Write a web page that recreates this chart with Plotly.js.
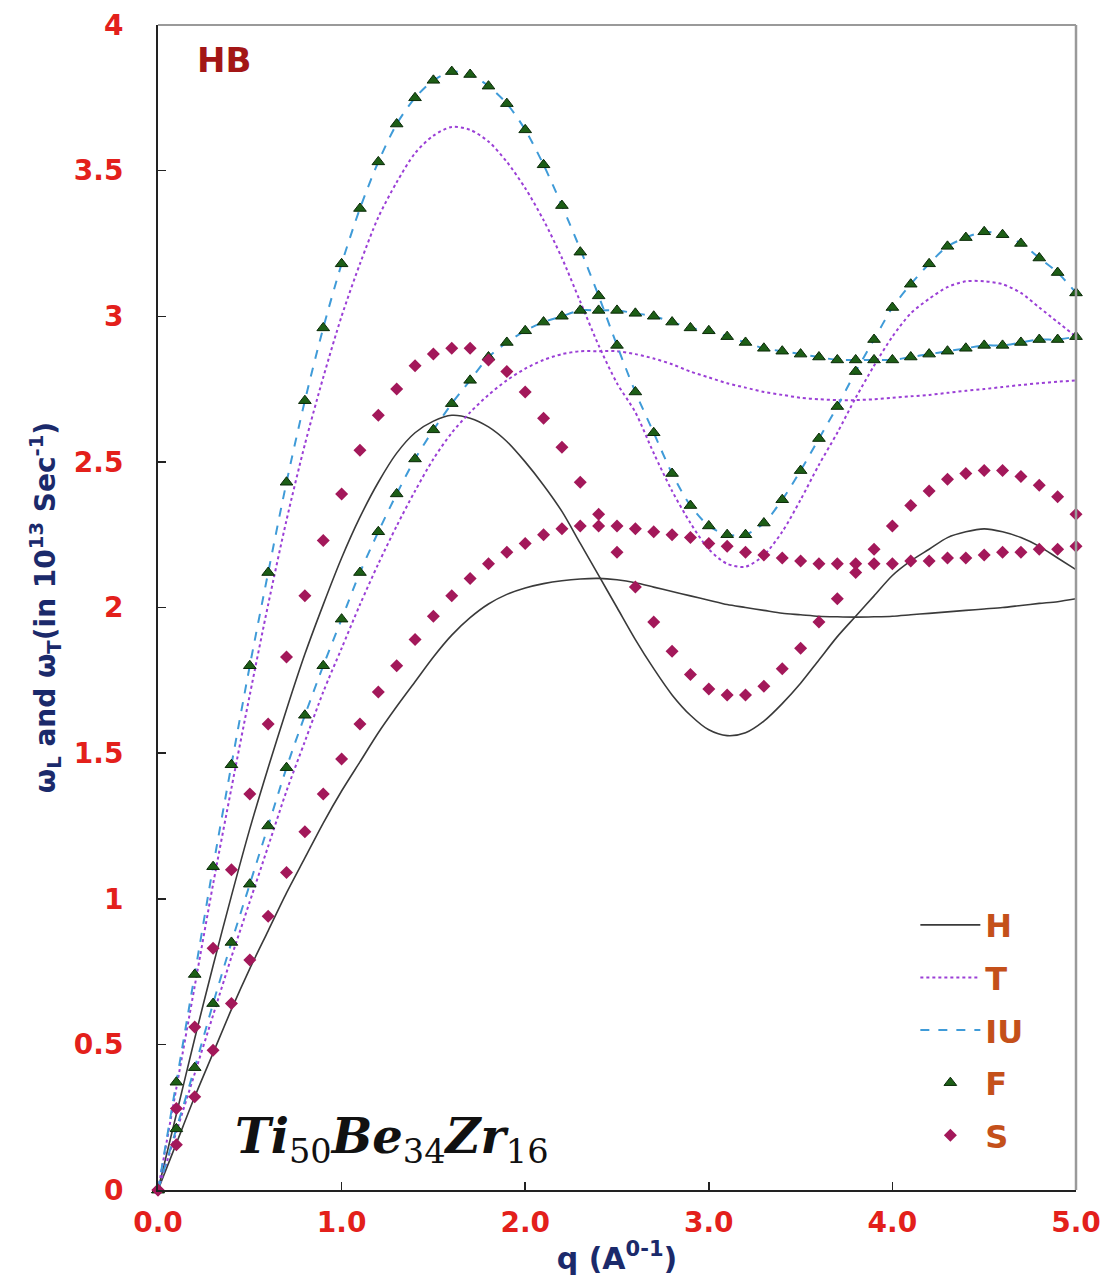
<!DOCTYPE html>
<html>
<head>
<meta charset="utf-8">
<script src="https://cdn.plot.ly/plotly-3.0.1.min.js"></script>
<style>html,body{margin:0;padding:0;background:#fff;}#chart{width:1107px;height:1280px;}</style>
</head>
<body>
<div id="chart"></div>
<script>
// wave vector q (A^-1), step 0.1
const q = [0.0,0.1,0.2,0.3,0.4,0.5,0.6,0.7,0.8,0.9,1.0,1.1,1.2,1.3,1.4,1.5,1.6,1.7,1.8,1.9,2.0,2.1,2.2,2.3,2.4,2.5,2.6,2.7,2.8,2.9,3.0,3.1,3.2,3.3,3.4,3.5,3.6,3.7,3.8,3.9,4.0,4.1,4.2,4.3,4.4,4.5,4.6,4.7,4.8,4.9,5.0];

// H (Hartree)
const H_L = [0,0.26,0.52,0.77,1.01,1.24,1.45,1.65,1.84,2.01,2.17,2.31,2.43,2.53,2.60,2.64,2.66,2.65,2.62,2.57,2.50,2.42,2.33,2.22,2.11,2.00,1.89,1.79,1.70,1.63,1.58,1.56,1.57,1.61,1.67,1.74,1.82,1.90,1.97,2.04,2.11,2.16,2.20,2.24,2.26,2.27,2.26,2.24,2.21,2.17,2.13];
const H_T = [0,0.16,0.32,0.47,0.62,0.76,0.89,1.02,1.14,1.26,1.37,1.47,1.57,1.66,1.745,1.83,1.905,1.965,2.012,2.045,2.067,2.082,2.092,2.098,2.10,2.095,2.085,2.07,2.055,2.04,2.025,2.01,2.00,1.99,1.98,1.975,1.97,1.968,1.967,1.968,1.97,1.975,1.98,1.985,1.99,1.995,2.00,2.007,2.014,2.02,2.03];

// T (Taylor)
const T_L = [0,0.35,0.70,1.05,1.38,1.70,2.01,2.30,2.56,2.79,3.00,3.18,3.34,3.46,3.56,3.62,3.65,3.64,3.60,3.53,3.44,3.33,3.20,3.05,2.90,2.77,2.67,2.53,2.40,2.29,2.20,2.15,2.14,2.18,2.26,2.37,2.49,2.60,2.72,2.83,2.93,3.01,3.06,3.10,3.12,3.12,3.11,3.08,3.03,2.98,2.93];
const T_T = [0,0.20,0.40,0.60,0.80,0.99,1.18,1.37,1.54,1.71,1.86,2.01,2.15,2.28,2.40,2.51,2.60,2.67,2.73,2.78,2.82,2.85,2.87,2.88,2.88,2.88,2.87,2.855,2.835,2.81,2.79,2.77,2.755,2.74,2.73,2.72,2.715,2.712,2.712,2.715,2.72,2.725,2.73,2.737,2.744,2.75,2.757,2.764,2.77,2.775,2.78];

// IU (Ichimaru-Utsumi)
const IU_L = [0,0.37,0.74,1.11,1.46,1.80,2.12,2.43,2.71,2.96,3.18,3.37,3.53,3.66,3.75,3.81,3.84,3.83,3.79,3.73,3.64,3.52,3.38,3.23,3.07,2.90,2.74,2.60,2.46,2.35,2.28,2.25,2.25,2.29,2.37,2.47,2.58,2.69,2.81,2.92,3.03,3.11,3.18,3.24,3.27,3.29,3.28,3.25,3.20,3.15,3.08];
const IU_T = [0,0.21,0.42,0.64,0.85,1.05,1.25,1.45,1.63,1.80,1.96,2.12,2.26,2.39,2.51,2.61,2.70,2.78,2.86,2.91,2.95,2.98,3.00,3.02,3.02,3.02,3.01,3.00,2.98,2.96,2.95,2.93,2.91,2.89,2.88,2.87,2.86,2.85,2.85,2.85,2.85,2.86,2.87,2.88,2.89,2.90,2.90,2.91,2.92,2.92,2.93];

// F (Farid et al.)
const F_L = [0,0.37,0.74,1.11,1.46,1.80,2.12,2.43,2.71,2.96,3.18,3.37,3.53,3.66,3.75,3.81,3.84,3.83,3.79,3.73,3.64,3.52,3.38,3.22,3.07,2.90,2.74,2.60,2.46,2.35,2.28,2.25,2.25,2.29,2.37,2.47,2.58,2.69,2.81,2.92,3.03,3.11,3.18,3.24,3.27,3.29,3.28,3.25,3.20,3.15,3.08];
const F_T = [0,0.21,0.42,0.64,0.85,1.05,1.25,1.45,1.63,1.80,1.96,2.12,2.26,2.39,2.51,2.61,2.70,2.78,2.86,2.91,2.95,2.98,3.00,3.02,3.02,3.02,3.01,3.00,2.98,2.96,2.95,2.93,2.91,2.89,2.88,2.87,2.86,2.85,2.85,2.85,2.85,2.86,2.87,2.88,2.89,2.90,2.90,2.91,2.92,2.92,2.93];

// S (Sarkar et al.)
const S_L = [0,0.28,0.56,0.83,1.10,1.36,1.60,1.83,2.04,2.23,2.39,2.54,2.66,2.75,2.83,2.87,2.89,2.89,2.85,2.81,2.74,2.65,2.55,2.43,2.32,2.19,2.07,1.95,1.85,1.77,1.72,1.70,1.70,1.73,1.79,1.86,1.95,2.03,2.12,2.20,2.28,2.35,2.40,2.44,2.46,2.47,2.47,2.45,2.42,2.38,2.32];
const S_T = [0,0.155,0.32,0.48,0.64,0.79,0.94,1.09,1.23,1.36,1.48,1.60,1.71,1.80,1.89,1.97,2.04,2.10,2.15,2.19,2.22,2.25,2.27,2.28,2.28,2.28,2.27,2.26,2.25,2.24,2.22,2.21,2.19,2.18,2.17,2.16,2.15,2.15,2.15,2.15,2.15,2.16,2.16,2.17,2.17,2.18,2.19,2.19,2.20,2.20,2.21];

const xTicks = [0,1,2,3,4,5];
const xTickText = ["0.0","1.0","2.0","3.0","4.0","5.0"];
const yTicks = [0,0.5,1,1.5,2,2.5,3,3.5,4];
const yTickText = ["0","0.5","1","1.5","2","2.5","3","3.5","4"];

const cH = "#3a3a3a", cT = "#9b3fd6", cIU = "#3f9bd8", cF = "#1d5e16", cS = "#a3185a";
const sans = "DejaVu Sans, Arial, sans-serif";

function lineTrace(name, y, style, show) {
  return Object.assign({x: q, y: y, type: "scatter", mode: "lines", name: name,
    legendgroup: name, showlegend: show, hoverinfo: "skip"}, style);
}
function markTrace(name, y, marker, show) {
  return {x: q, y: y, type: "scatter", mode: "markers", name: name,
    legendgroup: name, showlegend: show, hoverinfo: "skip", marker: marker, cliponaxis: false};
}

const lineH = {line: {color: cH, width: 1.6, dash: "solid", shape: "spline", smoothing: 0.8}};
const lineT = {line: {color: cT, width: 2, dash: "dot", shape: "spline", smoothing: 0.8}};
const lineIU = {line: {color: cIU, width: 2, dash: "dash", shape: "spline", smoothing: 0.8}};
const mF = {symbol: "triangle-up", size: 11, color: cF, line: {color: "#0a2a08", width: 1}};
const mS = {symbol: "diamond", size: 10, color: cS, line: {width: 0}};

const data = [
  lineTrace("H", H_L, lineH, true),
  lineTrace("H", H_T, lineH, false),
  lineTrace("T", T_L, lineT, true),
  lineTrace("T", T_T, lineT, false),
  lineTrace("IU", IU_L, lineIU, true),
  lineTrace("IU", IU_T, lineIU, false),
  markTrace("F", F_L, mF, true),
  markTrace("F", F_T, mF, false),
  markTrace("S", S_L, mS, true),
  markTrace("S", S_T, mS, false)
];

const tickFont = {family: sans, size: 28, color: "#e3201b", weight: "bold"};
const titleFont = {family: sans, size: 28, color: "#1b2a6b", weight: "bold"};

const layout = {
  width: 1107, height: 1280,
  margin: {l: 158, r: 31, t: 25, b: 90},
  paper_bgcolor: "#ffffff", plot_bgcolor: "#ffffff",
  showlegend: true,
  legend: {x: 0.825, y: 0.251, xanchor: "left", yanchor: "top", bgcolor: "rgba(0,0,0,0)",
    font: {family: sans, size: 32, color: "#c4501a", weight: "bold"},
    tracegroupgap: 8, itemwidth: 60},
  xaxis: {range: [0, 5], tickvals: xTicks, ticktext: xTickText, ticks: "inside", ticklen: 8,
    tickcolor: "#222", tickwidth: 1.5, showline: true, linecolor: "#222", linewidth: 2,
    showgrid: false, zeroline: false, tickfont: tickFont, ticklabelstandoff: 6,
    title: {text: "q (A<sup>0-1</sup>)", font: {family: sans, size: 30, color: "#1b2a6b", weight: "bold"}, standoff: 10}},
  yaxis: {range: [0, 4], tickvals: yTicks, ticktext: yTickText, ticks: "inside", ticklen: 8,
    tickcolor: "#222", tickwidth: 1.5, showline: true, linecolor: "#222", linewidth: 2,
    showgrid: false, zeroline: false, tickfont: tickFont, ticklabelstandoff: 27,
    title: {text: "ω<sub>L</sub> and ω<sub>T</sub>(in 10<sup>13</sup> Sec<sup>-1</sup>)", font: titleFont, standoff: 10}},
  shapes: [
    {type: "line", xref: "paper", yref: "paper", x0: 0, x1: 1, y0: 1, y1: 1, line: {color: "#9a9a9a", width: 2}},
    {type: "line", xref: "paper", yref: "paper", x0: 1, x1: 1, y0: 0, y1: 1, line: {color: "#9a9a9a", width: 2.5}}
  ],
  annotations: [
    {xref: "paper", yref: "paper", x: 0.040, y: 0.97, xanchor: "left", yanchor: "middle", showarrow: false,
     text: "<b>HB</b>", font: {family: sans, size: 34, color: "#a31616"}},
    {xref: "paper", yref: "paper", x: 0.082, y: 0.043, xanchor: "left", yanchor: "middle", showarrow: false,
     text: "<b><i>Ti</i></b><sub>50</sub><b><i>Be</i></b><sub>34</sub><b><i>Zr</i></b><sub>16</sub>",
     font: {family: "DejaVu Serif, Liberation Serif, serif", size: 48, color: "#111111"}}
  ]
};

Plotly.newPlot("chart", data, layout, {displayModeBar: false, staticPlot: true});
</script>
</body>
</html>
